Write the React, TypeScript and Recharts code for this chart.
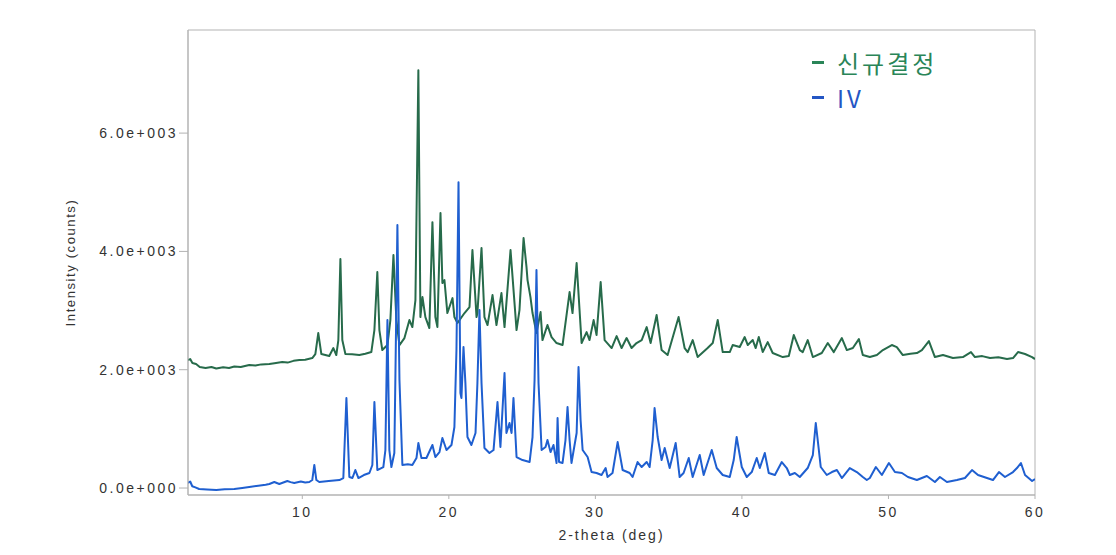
import React from "react";
import { LineChart, Line, XAxis, YAxis, ReferenceArea, Legend } from "recharts";

// 2-theta (deg) vs intensity (counts)
const newCrystalPattern: [number, number][] = [
  [2.2, 2163], [2.35, 2180], [2.5, 2113], [2.75, 2096], [3.0, 2045], [3.4, 2028], [3.8, 2045], [4.13, 2020],
  [4.6, 2040], [5.0, 2030], [5.36, 2055], [5.8, 2045], [6.38, 2079], [6.8, 2070], [7.2, 2090], [7.75, 2096],
  [8.1, 2110], [8.63, 2129], [9.0, 2120], [9.4, 2150], [9.8, 2163], [10.2, 2170],
  [10.68, 2197], [10.89, 2265], [11.09, 2620], [11.3, 2265], [11.84, 2231], [12.12, 2366], [12.32, 2248],
  [12.46, 2501], [12.6, 3870], [12.73, 2501], [12.94, 2265], [13.4, 2260], [13.89, 2248], [14.3, 2270], [14.71, 2298], [14.92, 2670], [15.12, 3650],
  [15.26, 2670], [15.46, 2332], [15.81, 2417], [16.01, 2839], [16.22, 3938], [16.42, 2839], [16.63, 2417], [16.97, 2535],
  [17.31, 2839], [17.51, 2721], [17.72, 3177], [17.92, 7064], [18.06, 2890], [18.2, 3228], [18.4, 2890], [18.67, 2704],
  [18.88, 4495], [19.08, 2890], [19.22, 2721], [19.43, 4648], [19.56, 3465], [19.7, 3515], [19.9, 2958], [20.25, 3211],
  [20.38, 2890], [20.59, 2789], [21.07, 2958], [21.41, 3059], [21.61, 4022], [21.89, 2890], [21.95, 2958], [22.23, 4056],
  [22.43, 2890], [22.64, 2755], [22.98, 3262], [23.25, 2755], [23.59, 3296], [23.8, 2721], [24.21, 4022], [24.62, 2670],
  [24.82, 3008], [25.1, 4225], [25.3, 3735], [25.37, 3515], [25.57, 3228], [25.71, 2958], [25.98, 2620], [26.26, 2974],
  [26.39, 2501], [26.73, 2755], [27.01, 2552], [27.35, 2451], [27.76, 2417], [28.24, 3312], [28.44, 2958], [28.72, 3803],
  [29.06, 2451], [29.4, 2636], [29.6, 2501], [29.88, 2839], [30.08, 2586], [30.36, 3481], [30.63, 2501], [31.11, 2366],
  [31.45, 2569], [31.79, 2366], [32.13, 2535], [32.47, 2366], [32.81, 2451], [33.16, 2501], [33.5, 2721], [33.77, 2451],
  [34.18, 2924], [34.52, 2332], [34.93, 2248], [35.68, 2890], [36.09, 2366], [36.3, 2298], [36.64, 2501], [36.98, 2214],
  [37.66, 2366], [38.01, 2451], [38.35, 2839], [38.69, 2298], [39.17, 2298], [39.37, 2417], [39.85, 2383], [40.19, 2552],
  [40.4, 2417], [40.74, 2501], [40.94, 2366], [41.15, 2552], [41.42, 2298], [41.76, 2467], [42.1, 2282], [42.79, 2214],
  [43.2, 2231], [43.54, 2586], [43.95, 2332], [44.15, 2298], [44.49, 2501], [44.84, 2214], [45.45, 2282], [45.86, 2451],
  [46.27, 2298], [46.82, 2535], [47.16, 2332], [47.57, 2366], [47.98, 2518], [48.25, 2248], [48.73, 2214], [49.21, 2248],
  [49.62, 2332], [50.23, 2417], [50.57, 2383], [50.98, 2248], [51.5, 2270], [51.94, 2282], [52.28, 2332], [52.76, 2484], [53.17, 2214],
  [53.72, 2248], [54.4, 2197], [55.08, 2214], [55.63, 2298], [55.9, 2214], [56.4, 2230], [56.93, 2197], [57.5, 2210], [58.09, 2180], [58.5, 2197],
  [58.84, 2298], [59.32, 2265], [59.8, 2214], [60.0, 2180],
];

const formIVPattern: [number, number][] = [
  [2.2, 85], [2.35, 110], [2.49, 30], [2.7, 10], [2.96, -17], [3.5, -25], [4.13, -34], [4.7, -20], [5.36, -17],
  [5.9, 0], [6.38, 17], [7.0, 40], [7.5, 55], [7.75, 68], [8.09, 101], [8.43, 68], [8.98, 118], [9.2, 100],
  [9.45, 85], [9.9, 110], [10.2, 95], [10.48, 101], [10.68, 135], [10.82, 389], [10.96, 135], [11.16, 101], [11.8, 120], [12.53, 135],
  [12.8, 169], [13.01, 1521], [13.21, 186], [13.42, 169], [13.62, 304], [13.83, 169], [14.2, 220], [14.58, 254], [14.78, 389],
  [14.92, 1453], [15.12, 304], [15.53, 355], [15.67, 642], [15.81, 2839], [15.94, 642], [16.08, 355], [16.28, 592],
  [16.35, 1825], [16.49, 4445], [16.63, 1825], [16.83, 389], [17.2, 400], [17.51, 389], [17.79, 507], [17.92, 761], [18.13, 507],
  [18.47, 507], [18.88, 727], [19.08, 524], [19.36, 608], [19.56, 845], [19.84, 642], [20.18, 727], [20.38, 1031],
  [20.52, 2332], [20.66, 5171], [20.79, 1606], [20.86, 1521], [21.0, 2383], [21.13, 1775], [21.27, 862], [21.54, 727],
  [21.82, 930], [21.95, 1775], [22.09, 3008], [22.23, 1775], [22.43, 676], [22.77, 592], [23.05, 642], [23.32, 1453],
  [23.52, 693], [23.8, 1944], [23.93, 930], [24.14, 1099], [24.28, 930], [24.41, 1521], [24.62, 524], [25.03, 473],
  [25.51, 439], [25.71, 862], [25.85, 1825], [25.98, 3684], [26.12, 1775], [26.33, 642], [26.6, 693], [26.73, 811],
  [26.94, 608], [27.14, 727], [27.35, 423], [27.42, 1183], [27.52, 440], [27.76, 423], [27.96, 811], [28.1, 1369],
  [28.24, 811], [28.37, 423], [28.72, 930], [28.85, 2045], [28.99, 1149], [29.13, 642], [29.47, 524], [29.74, 270],
  [30.08, 254], [30.42, 220], [30.7, 338], [30.83, 186], [31.17, 254], [31.52, 777], [31.86, 304], [32.34, 254],
  [32.54, 186], [32.88, 439], [33.16, 355], [33.5, 439], [33.7, 355], [33.91, 811], [34.04, 1352], [34.25, 862],
  [34.52, 473], [34.73, 676], [35.07, 338], [35.48, 761], [35.75, 186], [36.02, 254], [36.37, 507], [36.64, 186],
  [37.12, 558], [37.39, 220], [37.94, 642], [38.28, 338], [38.69, 220], [39.17, 186], [39.44, 473], [39.64, 862],
  [39.99, 355], [40.33, 186], [40.67, 270], [41.01, 507], [41.22, 338], [41.56, 592], [41.83, 254], [42.25, 220],
  [42.72, 439], [43.06, 338], [43.27, 220], [43.61, 254], [43.95, 186], [44.49, 338], [44.84, 558], [45.04, 1099],
  [45.25, 642], [45.38, 355], [45.79, 220], [46.14, 270], [46.48, 304], [46.82, 169], [47.36, 338], [47.84, 270],
  [48.25, 186], [48.52, 135], [48.73, 169], [49.14, 355], [49.55, 220], [50.03, 423], [50.44, 270], [50.92, 254],
  [51.33, 186], [51.94, 135], [52.62, 203], [53.17, 101], [53.51, 186], [53.99, 101], [54.67, 135], [55.22, 169],
  [55.7, 304], [56.11, 220], [56.72, 169], [57.13, 135], [57.54, 270], [57.95, 186], [58.5, 270], [58.77, 338],
  [59.04, 423], [59.32, 220], [59.8, 118], [60.0, 152],
];

const seriesNames = ["신규결정", "IV"];
const xTicks = [10, 20, 30, 40, 50, 60];
const yTicks = [0, 2000, 4000, 6000];
const xDomain: [number, number] = [2.2, 60];
const yDomain: [number, number] = [-118, 7743];

const GREEN = "#276b4b";
const BLUE = "#1f5fd0";
const LEGEND_GREEN = "#2a8558";
const LEGEND_BLUE = "#2456c4";
const AXIS = "#b3b3b3";
const TEXT = "#333333";
const FONT = "'Liberation Sans', Arial, sans-serif";

const toRows = (pairs: [number, number][]) => pairs.map(([x, y]) => ({ x, y }));
const newCrystalData = toRows(newCrystalPattern);
const formIVData = toRows(formIVPattern);

const fmtSci = (v: number) => {
  if (v === 0) return "0.0e+000";
  const e = Math.floor(Math.log10(Math.abs(v)));
  const m = v / Math.pow(10, e);
  return `${m.toFixed(1)}e${e >= 0 ? "+" : "-"}${String(Math.abs(e)).padStart(3, "0")}`;
};

const YLabel = (props: any) => {
  const vb = props.viewBox || { x: 0, y: 22, width: 180, height: 465 };
  const cx = vb.x + vb.width - 118;
  const cy = vb.y + vb.height / 2;
  return (
    <text x={cx} y={cy} transform={`rotate(-90 ${cx} ${cy})`} textAnchor="middle" dominantBaseline="central"
      fill={TEXT} fontSize={13} fontFamily={FONT} style={{ letterSpacing: "1.6px" }}>
      Intensity (counts)
    </text>
  );
};

const XLabel = (props: any) => {
  const vb = props.viewBox || { x: 180, y: 487, width: 847, height: 45 };
  const cx = vb.x + vb.width / 2;
  const cy = vb.y + 40;
  return (
    <text x={cx} y={cy} textAnchor="middle" dominantBaseline="central" fill={TEXT} fontSize={14}
      fontFamily={FONT} style={{ letterSpacing: "2px" }}>
      2-theta (deg)
    </text>
  );
};

const LegendBox = () => {
  const colors = [LEGEND_GREEN, LEGEND_BLUE];
  return (
    <div style={{ fontFamily: "'Noto Sans CJK KR', 'Noto Sans', sans-serif" }}>
      {seriesNames.map((n, i) => (
        <div key={n} style={{ display: "flex", alignItems: "center", height: 35, color: colors[i] }}>
          <span style={{ display: "inline-block", width: 12, height: 3, background: colors[i], marginRight: 13 }} />
          <span style={{ fontSize: 24, lineHeight: "35px", letterSpacing: "3px", whiteSpace: "nowrap" }}>{n}</span>
        </div>
      ))}
    </div>
  );
};

export default function App() {
  const tickStyle = { fill: TEXT, fontSize: 14, fontFamily: FONT, style: { letterSpacing: "2.5px" } };
  return (
    <div style={{ width: 1100, height: 540 }}>
      <LineChart width={1100} height={540} margin={{ top: 22, right: 73, left: 0, bottom: 8 }}>
        <XAxis
          type="number"
          dataKey="x"
          domain={xDomain}
          ticks={xTicks}
          allowDataOverflow
          stroke={AXIS}
          tickLine={{ stroke: AXIS }}
          tickSize={4}
          tickMargin={8}
          height={45}
          tick={tickStyle}
          label={<XLabel />}
        />
        <YAxis
          type="number"
          dataKey="y"
          domain={yDomain}
          ticks={yTicks}
          allowDataOverflow
          stroke={AXIS}
          tickLine={{ stroke: AXIS }}
          tickSize={9}
          tickMargin={1}
          width={180}
          tick={tickStyle}
          tickFormatter={fmtSci}
          label={<YLabel />}
        />
        <ReferenceArea x1={xDomain[0]} x2={xDomain[1]} y1={yDomain[0]} y2={yDomain[1]} fill="none"
          stroke={AXIS} strokeWidth={1} ifOverflow="visible" />
        <Legend layout="vertical" align="center" verticalAlign="middle" content={<LegendBox />}
          wrapperStyle={{ position: "absolute", top: 37, left: 804, width: 200, height: 70 }} />
        <Line data={newCrystalData} dataKey="y" name={seriesNames[0]} type="linear" stroke={GREEN}
          strokeWidth={2} strokeLinejoin="round" dot={false} isAnimationActive={false} />
        <Line data={formIVData} dataKey="y" name={seriesNames[1]} type="linear" stroke={BLUE}
          strokeWidth={2} strokeLinejoin="round" dot={false} isAnimationActive={false} />
      </LineChart>
    </div>
  );
}
